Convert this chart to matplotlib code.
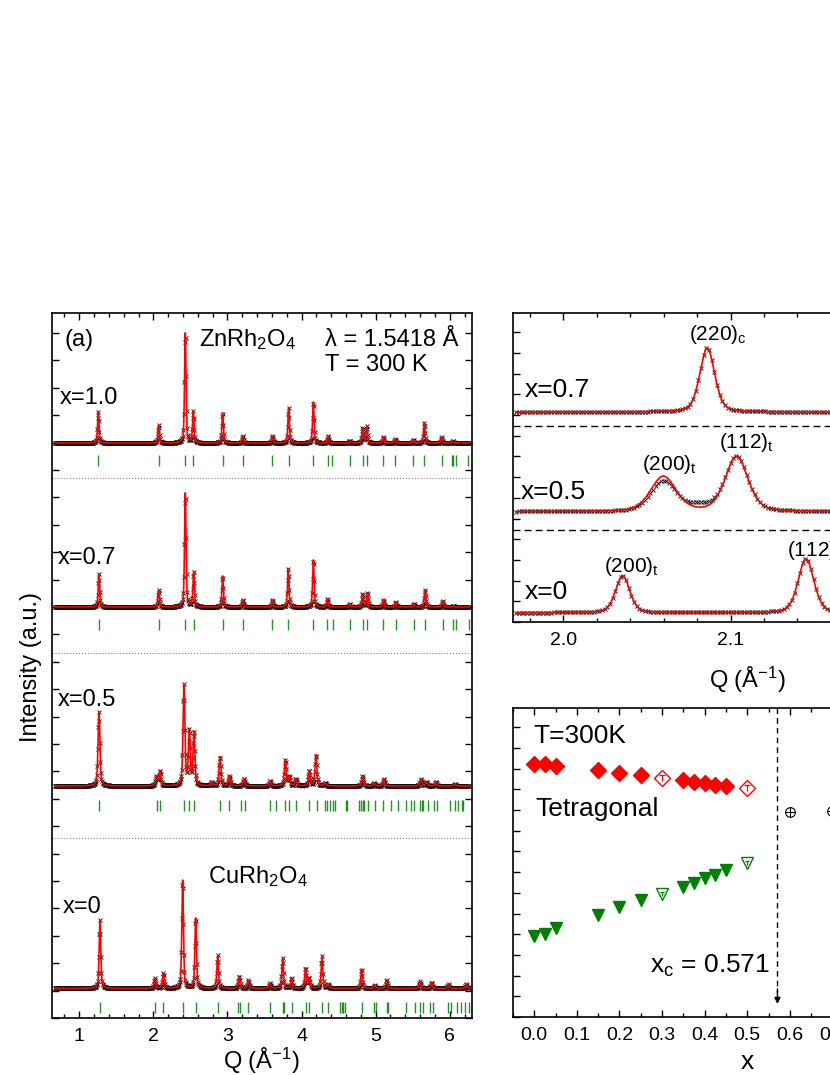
import numpy as np
import matplotlib
matplotlib.use("Agg")
import matplotlib.pyplot as plt
from matplotlib.ticker import MultipleLocator, NullFormatter, FormatStrFormatter
from matplotlib.path import Path

plt.rcParams['font.family'] = 'Liberation Sans'
plt.rcParams['mathtext.fontset'] = 'custom'
plt.rcParams['mathtext.rm'] = 'Liberation Sans'
plt.rcParams['mathtext.it'] = 'Liberation Sans:italic'
plt.rcParams['mathtext.bf'] = 'Liberation Sans:bold'

# ---- (a) full patterns: peak positions (1/A) and heights (a.u.) ----
q10 = [1.257, 2.071, 2.431, 2.539, 2.935, 3.205, 3.605, 3.826, 4.159, 4.356,
       4.653, 4.824, 4.878, 5.103, 5.261, 5.508, 5.656, 5.890, 6.040]
h10 = [31, 18, 110, 31, 30, 7, 7, 35, 41, 7, 2, 15, 17, 6, 4, 3, 20, 6, 2]

q07 = [1.266, 2.071, 2.431, 2.544, 2.935, 3.205, 3.605, 3.821, 4.159, 4.348,
       4.654, 4.824, 4.887, 5.103, 5.270, 5.517, 5.666, 5.904, 6.050]
h07 = [33, 17, 114, 35, 31, 7, 7, 38, 47, 8, 3, 13, 14, 7, 5, 3, 17, 6, 1]

q05 = [1.266, 2.044, 2.089, 2.413, 2.485, 2.548, 2.787, 2.899, 3.024, 3.222,
       3.573, 3.780, 3.834, 3.924, 4.104, 4.194, 4.316, 4.824, 4.980, 5.110,
       5.610, 5.688, 5.810, 6.070]
h05 = [74, 9, 15, 100, 54, 53, 4, 29, 10, 7, 5, 26, 9, 7, 15, 31, 3, 10, 3, 7,
       7, 4, 4, 2]

q00 = [1.279, 2.022, 2.134, 2.395, 2.571, 2.868, 3.159, 3.281, 3.573, 3.744,
       3.866, 4.055, 4.103, 4.275, 4.360, 4.811, 4.990, 5.148, 5.598, 5.756,
       5.980, 6.220]
h00 = [68, 10, 15, 108, 70, 33, 12, 8, 5, 30, 10, 20, 10, 32, 4, 19, 3, 8, 7,
       6, 4, 4]

# Bragg reflection markers
b10 = [1.257, 2.071, 2.431, 2.539, 2.935, 3.205, 3.605, 3.826, 4.159, 4.356,
       4.415, 4.653, 4.824, 4.878, 5.103, 5.261, 5.508, 5.656, 5.890, 6.025,
       6.048, 6.084, 6.250]
b07 = [1.266, 2.071, 2.431, 2.544, 2.935, 3.205, 3.605, 3.821, 4.159, 4.348,
       4.420, 4.654, 4.824, 4.887, 5.103, 5.270, 5.517, 5.666, 5.904, 6.039,
       6.084, 6.264]
b05 = [1.266, 2.044, 2.089, 2.413, 2.485, 2.548, 2.899, 3.025, 3.178, 3.237,
       3.574, 3.655, 3.781, 3.835, 3.925, 4.105, 4.204, 4.316, 4.348, 4.384,
       4.420, 4.451, 4.600, 4.618, 4.780, 4.797, 4.824, 4.842, 4.901, 4.991,
       5.103, 5.202, 5.306, 5.409, 5.472, 5.517, 5.598, 5.621, 5.643, 5.702,
       5.791, 5.823, 6.003, 6.071, 6.115, 6.160, 6.183]
b00 = [1.280, 2.022, 2.134, 2.395, 2.571, 2.868, 3.147, 3.169, 3.282, 3.574,
       3.745, 3.767, 3.866, 4.055, 4.105, 4.276, 4.361, 4.519, 4.541, 4.564,
       4.586, 4.811, 4.977, 5.004, 5.148, 5.171, 5.409, 5.531, 5.598, 5.643,
       5.733, 5.769, 5.981, 6.012, 6.093, 6.147, 6.205, 6.264]

samples_a = ["x=1.0", "x=0.7", "x=0.5", "x=0"]

# ---- (b) zoom on the (220) region ----
pz07 = [2.0861]
hz07 = [64]
wz07 = [0.0105]
pz05 = [2.0598, 2.1036]
hz05_calc = [35, 55]
wz05 = [0.018, 0.016]
pz05_obs = [2.0598, 2.0820, 2.1036]
hz05_obs = [30, 5, 55]
wz05_obs = [0.018, 0.020, 0.016]
pz00 = [2.0355, 2.1451]
hz00 = [37, 54]
wz00 = [0.010, 0.011]

# ---- (c) lattice parameters vs x ----
x_tet = [0.0, 0.025, 0.05, 0.15, 0.2, 0.25, 0.35, 0.375, 0.4, 0.425, 0.45]
a_tet = [253, 253, 251.5, 247, 244.3, 242, 237, 235.5, 234, 232.5, 231]
x_tet_open = [0.3, 0.5]
a_tet_open = [239.3, 228.7]
c_tet = [81, 83, 88.7, 102, 109.7, 117, 130.3, 134.3, 139.3, 142, 147]
c_tet_open = [122.7, 154.3]
x_cub = [0.6, 0.7]
a_cub = [205.3, 206]
xc = 0.571


def pv(q, pos, hts, wid, eta):
    y = np.zeros_like(q)
    for p, h, w in zip(pos, hts, wid):
        d = (q - p) / w
        y += h * ((1 - eta) * np.exp(-4 * np.log(2) * d ** 2) + eta / (1 + 4 * d ** 2))
    return y


fig = plt.figure(figsize=(8.3, 10.75), dpi=100)
W, H = 830.0, 1075.0

axL = fig.add_axes([52 / W, 57 / H, 420 / W, 705 / H])
axR1 = fig.add_axes([513 / W, 453 / H, 468 / W, 309 / H])
axR2 = fig.add_axes([513 / W, 58 / H, 468 / W, 309 / H])

for ax in (axL, axR1, axR2):
    for s in ax.spines.values():
        s.set_linewidth(1.2)
    ax.tick_params(which='both', direction='in', top=True, right=True,
                   width=1.0, labelsize=14, pad=7)
    ax.tick_params(which='major', length=5)
    ax.tick_params(which='minor', length=3)
    ax.yaxis.set_major_formatter(NullFormatter())

# ---------------- left panel ----------------
q = np.arange(0.67, 6.27, 0.001)
qo = np.arange(0.67, 6.27, 0.007)
offsets = [575, 411, 232, 29.7]
tick_rows = [558, 394, 213, 11]
seps = [540, 365, 180]
pats = [(q10, h10, 0.024), (q07, h07, 0.024), (q05, h05, 0.03), (q00, h00, 0.026)]
bragg = [b10, b07, b05, b00]

for (pos, hts, w), off, tr, bl in zip(pats, offsets, tick_rows, bragg):
    wl = [w] * len(pos)
    axL.plot(qo, pv(qo, pos, hts, wl, 0.5) + off, ls='none', marker='x',
             ms=3.2, mew=0.7, color='k', alpha=0.85, zorder=2)
    axL.plot(q, pv(q, pos, hts, wl, 0.5) + off, color='red', lw=1.2, zorder=3)
    axL.vlines(bl, tr - 5.5, tr + 5.5, color='green', lw=1.0, alpha=0.85)
for s in seps:
    axL.axhline(s, color='gray', ls=':', lw=0.8)

axL.set_xlim(0.632, 6.30)
axL.set_ylim(0, 705)
axL.xaxis.set_major_locator(MultipleLocator(1))
axL.xaxis.set_minor_locator(MultipleLocator(0.2))
axL.yaxis.set_major_locator(MultipleLocator(27.4))

fs = 17
axL.text(0.807, 678, "(a)", fontsize=fs, va='center')
axL.text(2.618, 678, "ZnRh$_2$O$_4$", fontsize=fs, va='center')
axL.text(4.32, 678, "λ = 1.5418 Å", fontsize=fs, va='center')
axL.text(4.32, 653, "T = 300 K", fontsize=fs, va='center')
axL.text(0.74, 620, samples_a[0], fontsize=fs, va='center')
axL.text(0.713, 460, samples_a[1], fontsize=fs, va='center')
axL.text(0.713, 318, samples_a[2], fontsize=fs, va='center')
axL.text(2.738, 141, "CuRh$_2$O$_4$", fontsize=fs, va='center')
axL.text(0.78, 111, samples_a[3], fontsize=fs, va='center')

fig.text(31 / W, 1 - 667 / H, "Intensity (a.u.)", rotation=90, fontsize=17,
         ha='center', va='center')
fig.text(261 / W, 1 - 1061 / H, "Q (Å$^{-1}$)", fontsize=17, ha='center', va='center')

# ---------------- right top panel ----------------
qz = np.arange(1.972, 2.26, 0.0002)
qzo = np.arange(1.972, 2.26, 0.0016)
zoff = [210, 110.3, 9.3]
calc = [(pz07, hz07, wz07), (pz05, hz05_calc, wz05), (pz00, hz00, wz00)]
obs = [(pz07, hz07, wz07), (pz05_obs, hz05_obs, wz05_obs), (pz00, hz00, wz00)]
for (pc, hc, wc), (po, ho, wo), off in zip(calc, obs, zoff):
    axR1.plot(qzo, pv(qzo, po, ho, wo, 0.35) + off, ls='none', marker='x',
              ms=3.5, mew=0.7, color='k', alpha=0.85, zorder=2)
    axR1.plot(qz, pv(qz, pc, hc, wc, 0.35) + off, color='red', lw=1.2, zorder=3)
for s in [196, 92]:
    axR1.axhline(s, color='k', ls=(0, (5, 3)), lw=1.0)

axR1.set_xlim(1.970, 2.2497)
axR1.set_ylim(0, 309)
axR1.xaxis.set_major_locator(MultipleLocator(0.1))
axR1.xaxis.set_minor_locator(MultipleLocator(0.02))
axR1.yaxis.set_major_locator(MultipleLocator(20.7))
axR1.xaxis.set_major_formatter(FormatStrFormatter('%.1f'))

fz = 19
fi = 15
axR1.text(1.9771, 232, "x=0.7", fontsize=fz, va='center')
axR1.text(2.0925, 287, r"(220)$_\mathrm{c}$", fontsize=fi, ha='center', va='center')
axR1.text(2.1097, 179, r"(112)$_\mathrm{t}$", fontsize=fi, ha='center', va='center')
axR1.text(2.0638, 157, r"(200)$_\mathrm{t}$", fontsize=fi, ha='center', va='center')
axR1.text(1.9747, 130, "x=0.5", fontsize=fz, va='center')
axR1.text(2.041, 55, r"(200)$_\mathrm{t}$", fontsize=fi, ha='center', va='center')
axR1.text(2.1504, 72, r"(112)$_\mathrm{t}$", fontsize=fi, ha='center', va='center')
axR1.text(1.9771, 30, "x=0", fontsize=fz, va='center')

fig.text(747 / W, 1 - 680 / H, "Q (Å$^{-1}$)", fontsize=17, ha='center', va='center')

# ---------------- right bottom panel ----------------
tee = Path([(-1, 1), (1, 1), (0, 1), (0, -1)],
           [Path.MOVETO, Path.LINETO, Path.MOVETO, Path.LINETO])

axR2.plot(x_tet, a_tet, ls='none', marker='D', ms=8, color='red', mec='red')
axR2.plot(x_tet_open, a_tet_open, ls='none', marker='D', ms=8, mfc='white',
          mec='red', mew=1.0)
axR2.plot(x_tet_open, a_tet_open, ls='none', marker=tee, ms=4, mec='red', mew=0.9)
axR2.plot(x_tet, c_tet, ls='none', marker='v', ms=8.5, color='green', mec='green')
axR2.plot(x_tet_open, c_tet_open, ls='none', marker='v', ms=8.5, mfc='white',
          mec='green', mew=1.0)
axR2.plot(x_tet_open, c_tet_open, ls='none', marker=tee, ms=3.5, mec='green', mew=0.9)
axR2.plot(x_cub, a_cub, ls='none', marker='o', ms=7, mfc='white', mec='k', mew=0.8)
axR2.plot(x_cub, a_cub, ls='none', marker='+', ms=7, mec='k', mew=0.8)

axR2.plot([xc, xc], [309, 25], color='k', ls=(0, (4, 3)), lw=1.0)
axR2.annotate("", xy=(xc, 13), xytext=(xc, 28),
              arrowprops=dict(arrowstyle='-|>', color='k', lw=1.0,
                              mutation_scale=9, shrinkA=0, shrinkB=0))

axR2.set_xlim(-0.05, 1.049)
axR2.set_ylim(0, 309)
axR2.xaxis.set_major_locator(MultipleLocator(0.1))
axR2.xaxis.set_minor_locator(MultipleLocator(0.05))
axR2.yaxis.set_major_locator(MultipleLocator(20.7))
axR2.xaxis.set_major_formatter(FormatStrFormatter('%.1f'))

axR2.text(-0.003, 281, "T=300K", fontsize=19, va='center')
axR2.text(0.002, 208, "Tetragonal", fontsize=19, va='center')
axR2.text(0.553, 51, r"x$_\mathrm{c}$ = 0.571", fontsize=19, ha='right', va='center')

fig.text(747 / W, 1 - 1062 / H, "x", fontsize=19, ha='center', va='center')

fig.savefig("out.png", dpi=100)
